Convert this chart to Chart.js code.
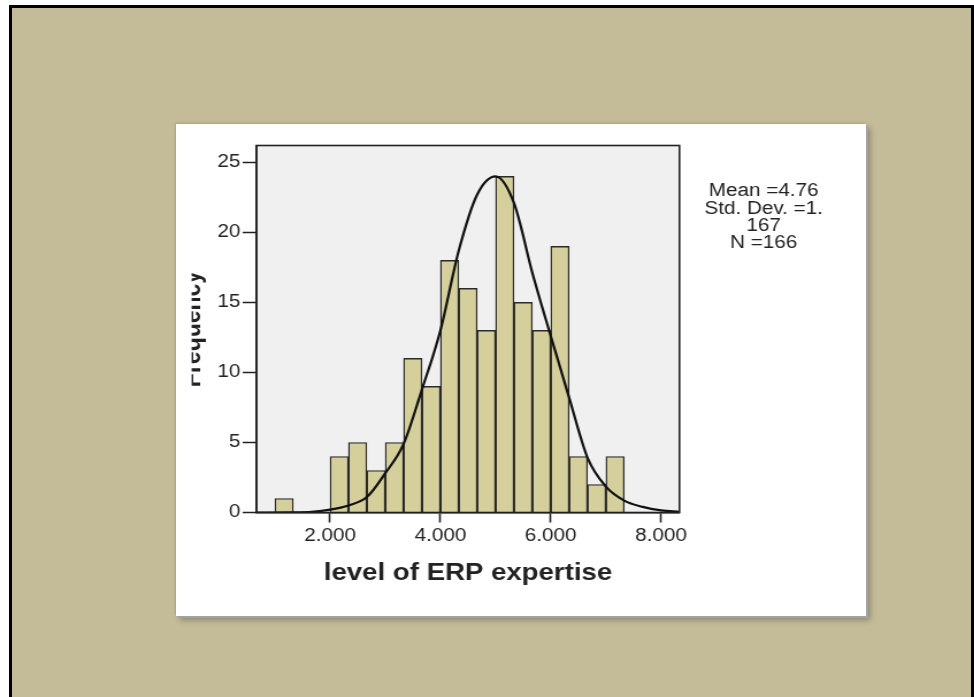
<!DOCTYPE html>
<html>
<head>
<meta charset="utf-8">
<script src="https://cdn.jsdelivr.net/npm/chart.js@4.4.1/dist/chart.umd.min.js"></script>
<style>
  html, body { margin: 0; padding: 0; background: #fff; width: 974px; height: 697px; overflow: hidden; }
  #frame {
    position: absolute; left: 9px; top: 5px; width: 965px; height: 720px;
    box-sizing: border-box; border: 3px solid #000; border-bottom: none;
    background: #c4bc98;
  }
  #card {
    position: absolute; left: 176px; top: 124px; width: 690px; height: 492px;
    background: #fff;
    box-shadow: -1px -1px 2px rgba(0,0,0,0.12), 2px 2px 0 #a4a4a4, 4px 4px 6px rgba(0,0,0,0.3);
  }
</style>
</head>
<body>
<div id="frame"></div>
<div id="card">
  <!-- drawn at 600px wide and stretched to 690px, like the pasted SPSS picture -->
  <canvas id="hist" width="600" height="492" style="width:690px;height:492px"></canvas>
</div>
<script>
// histogram bins (mid points, bin width 1/3) and counts
const binMids = [1.167, 2.167, 2.5, 2.833, 3.167, 3.5, 3.833, 4.167, 4.5, 4.833, 5.167, 5.5, 5.833, 6.167, 6.5, 6.833, 7.167];
const binCounts = [1, 4, 5, 3, 5, 11, 9, 18, 16, 13, 24, 15, 13, 19, 4, 2, 4];

// normal curve
const curveX = [0.667, 1.333, 1.667, 2.0, 2.333, 2.667, 3.0, 3.333, 3.667, 4.0, 4.333, 4.667, 5.0, 5.333, 5.667, 6.0, 6.333, 6.667, 7.0, 7.333, 7.667, 8.0, 8.333];
const curveY = [0, 0.01, 0.05, 0.2, 0.5, 1.1, 2.8, 4.9, 8.8, 13.0, 18.7, 22.7, 24.0, 22.1, 17.1, 12.6, 8.2, 3.9, 1.85, 0.85, 0.4, 0.15, 0.05];

const xTicks = [2, 4, 6, 8];
const xTickLabels = ["2.000", "4.000", "6.000", "8.000"];
const yTicks = [0, 5, 10, 15, 20, 25];

const statsLines = ["Mean =4.76", "Std. Dev. =1.", "167", "N =166"];

const FONT = "'Liberation Sans', Arial, sans-serif";
const INK = "#222";

const spssFrame = {
  id: "spssFrame",
  beforeDraw(chart) {
    const { ctx, chartArea: a } = chart;
    ctx.save();
    // the y title is cut off on the left in the original
    ctx.beginPath();
    ctx.rect(13.6, 0, chart.width, chart.height);
    ctx.clip();
    ctx.fillStyle = "#f0f0f0";
    ctx.fillRect(a.left, a.top, a.right - a.left, a.bottom - a.top);
  },
  afterDatasetsDraw(chart) {
    const { ctx, chartArea: a } = chart;
    ctx.save();
    ctx.strokeStyle = INK;
    ctx.lineWidth = 1.6;
    ctx.strokeRect(a.left, a.top, a.right - a.left, a.bottom - a.top);
    ctx.restore();
  },
  afterDraw(chart) {
    const ctx = chart.ctx;
    ctx.restore();
    ctx.save();
    ctx.fillStyle = INK;
    ctx.font = "18px " + FONT;
    ctx.textAlign = "center";
    ctx.textBaseline = "middle";
    statsLines.forEach((t, i) => ctx.fillText(t, 511, 67.5 + i * 17.3));
    ctx.restore();
  }
};

new Chart(document.getElementById("hist"), {
  type: "bar",
  data: {
    datasets: [
      {
        type: "line",
        data: curveX.map((x, i) => ({ x: x, y: curveY[i] })),
        borderColor: "#111",
        borderWidth: 2.2,
        pointRadius: 0,
        fill: false,
        cubicInterpolationMode: "monotone",
        order: 0
      },
      {
        type: "bar",
        data: binMids.map((x, i) => ({ x: x, y: binCounts[i] })),
        backgroundColor: "#d5d09b",
        borderColor: "#2a2a2a",
        borderWidth: 1.4,
        barPercentage: 1,
        categoryPercentage: 1,
        order: 1
      }
    ]
  },
  options: {
    responsive: false,
    devicePixelRatio: 1,
    animation: false,
    layout: { padding: { left: 0, right: 162.2, top: 21.5, bottom: 0 } },
    plugins: { legend: { display: false }, tooltip: { enabled: false } },
    scales: {
      x: {
        type: "linear",
        min: 0.6667,
        max: 8.3333,
        offset: false,
        afterBuildTicks: (s) => { s.ticks = xTicks.map(v => ({ value: v })); },
        afterFit: (s) => { s.height = 103.5; },
        ticks: {
          autoSkip: false,
          maxRotation: 0,
          padding: 3,
          color: INK,
          font: { family: FONT, size: 18 },
          callback: (v, i) => xTickLabels[i]
        },
        grid: { offset: false, drawOnChartArea: false, drawTicks: true, tickLength: 10, tickColor: INK, tickWidth: 1.6 },
        border: { display: true, color: INK, width: 1.6 },
        title: {
          display: true,
          text: "level of ERP expertise",
          color: INK,
          font: { family: FONT, size: 24, weight: "bold" },
          padding: { top: 0, bottom: 28.6 }
        }
      },
      y: {
        min: 0,
        max: 26.2,
        afterBuildTicks: (s) => { s.ticks = yTicks.map(v => ({ value: v })); },
        afterFit: (s) => { s.width = 70; },
        ticks: {
          padding: 2,
          color: INK,
          font: { family: FONT, size: 18 }
        },
        grid: { drawOnChartArea: false, drawTicks: true, tickLength: 12, tickColor: INK, tickWidth: 1.6 },
        border: { display: true, color: INK, width: 1.6 },
        title: {
          display: true,
          text: "Frequency",
          color: INK,
          font: { family: FONT, size: 23, weight: "bold", lineHeight: 1 },
          padding: { top: 2.8, bottom: 0 }
        }
      }
    }
  },
  plugins: [spssFrame]
});
</script>
</body>
</html>
